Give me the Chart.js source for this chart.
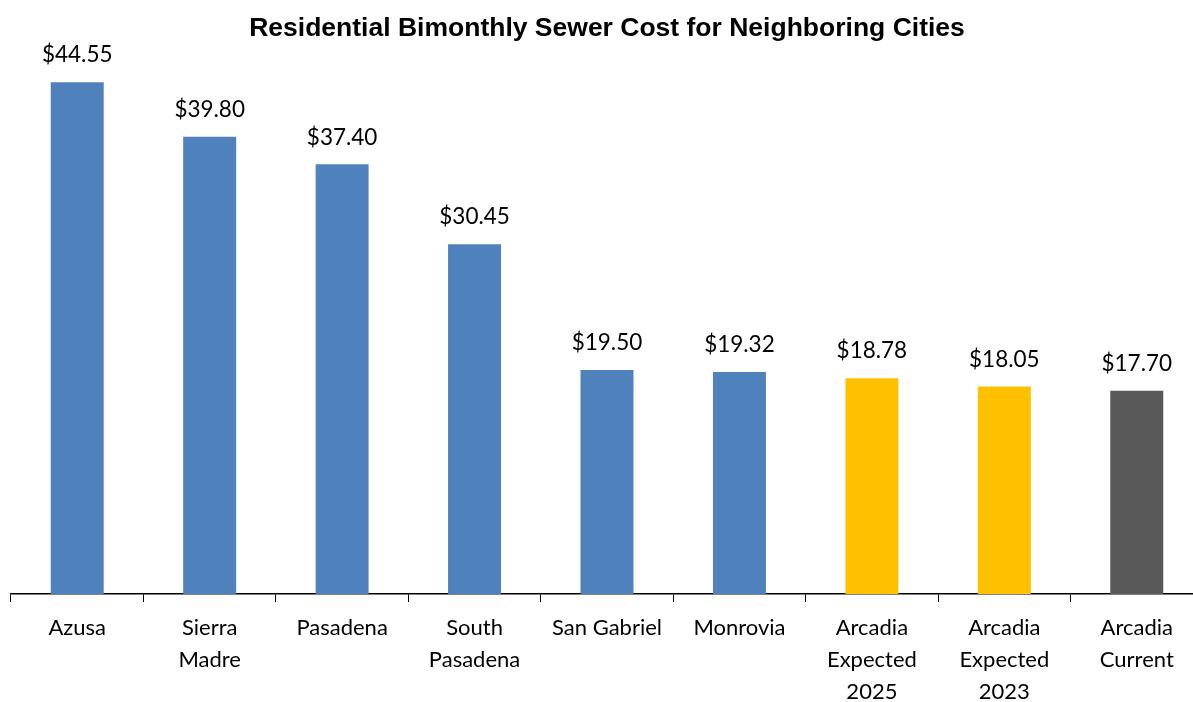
<!DOCTYPE html>
<html>
<head>
<meta charset="utf-8">
<script src="https://cdn.jsdelivr.net/npm/chart.js@4/dist/chart.umd.min.js"></script>
<style>
  html, body { margin: 0; padding: 0; background: #fff; overflow: hidden; }
  #chart { display: block; }
</style>
</head>
<body>
<canvas id="chart" width="1204" height="702"></canvas>
<script>
// Data
const cities = [
  'Azusa',
  ['Sierra', 'Madre'],
  'Pasadena',
  ['South', 'Pasadena'],
  'San Gabriel',
  'Monrovia',
  ['Arcadia', 'Expected', '2025'],
  ['Arcadia', 'Expected', '2023'],
  ['Arcadia', 'Current']
];
const sewerCost = [44.55, 39.80, 37.40, 30.45, 19.50, 19.32, 18.78, 18.05, 17.70];
const barColors = [
  '#4f81bd', '#4f81bd', '#4f81bd', '#4f81bd', '#4f81bd', '#4f81bd',
  '#ffc000', '#ffc000', '#595959'
];

const LABEL_FONT = 'Lato, "Open Sans", sans-serif';

// Draw the "$xx.xx" labels above each bar
const valueLabels = {
  id: 'valueLabels',
  afterDatasetsDraw(chart) {
    const ctx = chart.ctx;
    const meta = chart.getDatasetMeta(0);
    ctx.save();
    ctx.font = '22.5px ' + LABEL_FONT;
    ctx.fillStyle = '#000';
    ctx.textAlign = 'center';
    ctx.textBaseline = 'middle';
    meta.data.forEach((bar, i) => {
      ctx.fillText('$' + sewerCost[i].toFixed(2), bar.x, bar.y - 27);
    });
    ctx.restore();
  }
};

new Chart(document.getElementById('chart'), {
  type: 'bar',
  data: {
    labels: cities,
    datasets: [
      {
        data: sewerCost,
        backgroundColor: barColors,
        borderWidth: 0,
        barPercentage: 0.4,
        categoryPercentage: 1
      }
    ]
  },
  options: {
    responsive: false,
    animation: false,
    layout: { padding: { left: 11, right: 1, top: 0, bottom: 0 } },
    plugins: {
      legend: { display: false },
      tooltip: { enabled: false },
      title: {
        display: true,
        text: 'Residential Bimonthly Sewer Cost for Neighboring Cities',
        color: '#000',
        font: { family: '"Liberation Sans", Arial, sans-serif', size: 26.5, weight: 'bold', lineHeight: 1 },
        padding: { top: 15, bottom: 1 }
      }
    },
    scales: {
      y: {
        display: false,
        min: 0,
        max: 48
      },
      x: {
        afterFit(scale) { scale.height = 108; },
        border: { display: true, color: '#000', width: 1.5 },
        grid: {
          offset: true,
          drawOnChartArea: false,
          drawTicks: true,
          tickLength: 8,
          color: '#000',
          lineWidth: 1
        },
        ticks: {
          color: '#000',
          font: { family: LABEL_FONT, size: 22, lineHeight: 1.45 },
          padding: 10,
          maxRotation: 0,
          minRotation: 0,
          autoSkip: false
        }
      }
    }
  },
  plugins: [valueLabels]
});
</script>
</body>
</html>
